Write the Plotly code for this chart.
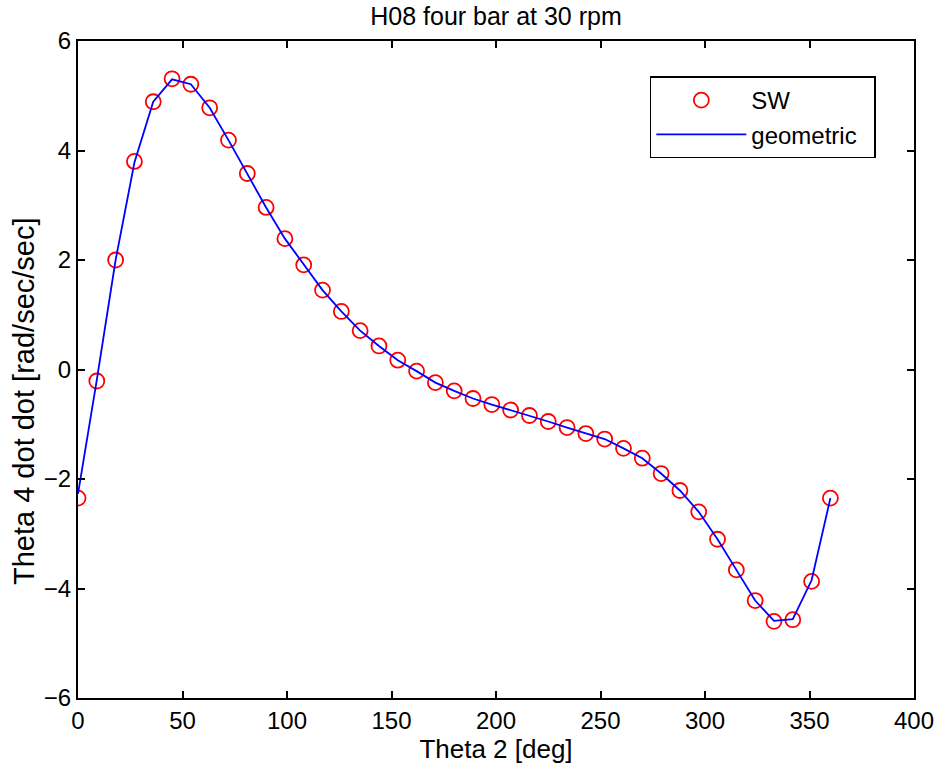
import plotly.graph_objects as go

theta2_deg = [0, 9, 18, 27, 36, 45, 54, 63, 72, 81, 90, 99, 108, 117, 126, 135,
              144, 153, 162, 171, 180, 189, 198, 207, 216, 225, 234, 243, 252,
              261, 270, 279, 288, 297, 306, 315, 324, 333, 342, 351, 360]

sw_values = [-2.35, -0.21, 2.00, 3.80, 4.89, 5.31, 5.21, 4.78, 4.19, 3.58, 2.96,
             2.39, 1.91, 1.45, 1.06, 0.71, 0.43, 0.17, -0.03, -0.24, -0.39,
             -0.53, -0.64, -0.74, -0.84, -0.95, -1.06, -1.17, -1.27, -1.44,
             -1.62, -1.90, -2.21, -2.60, -3.10, -3.66, -4.22, -4.60, -4.57,
             -3.87, -2.35]

geometric_values = [-2.27, -0.19, 2.00, 3.78, 4.89, 5.30, 5.21, 4.78, 4.19, 3.58, 2.96,
                    2.39, 1.91, 1.45, 1.06, 0.71, 0.43, 0.17, -0.03, -0.24, -0.39,
                    -0.53, -0.64, -0.74, -0.84, -0.95, -1.06, -1.17, -1.27, -1.44,
                    -1.62, -1.90, -2.21, -2.60, -3.10, -3.66, -4.22, -4.59, -4.56,
                    -3.85, -2.35]

FONT = "Liberation Sans, Arial, sans-serif"
FS = 24

fig = go.Figure()
fig.add_trace(go.Scatter(
    x=theta2_deg, y=sw_values, mode="markers", name="SW",
    marker=dict(symbol="circle-open", size=15, color="#ff0000",
                line=dict(color="#ff0000", width=1.8)),
))
fig.add_trace(go.Scatter(
    x=theta2_deg, y=geometric_values, mode="lines", name="geometric\u2002",
    line=dict(color="#0000ff", width=1.8),
))

axis_common = dict(
    showline=True, mirror="ticks", linecolor="black", linewidth=2,
    ticks="inside", ticklen=7, tickwidth=1.5, tickcolor="black",
    showgrid=False, zeroline=False, automargin=False,
    tickfont=dict(family=FONT, size=FS, color="black"),
)

fig.update_layout(
    width=942, height=773,
    margin=dict(l=78, r=28, t=41, b=75, autoexpand=False),
    paper_bgcolor="white", plot_bgcolor="white",
    font=dict(family=FONT, size=FS, color="black"),
    title=dict(text="H08 four bar at 30 rpm", xref="paper", x=0.5, xanchor="center",
               y=1 - 16 / 773, yanchor="middle",
               font=dict(family=FONT, size=25, color="black")),
    xaxis=dict(range=[0, 400], dtick=50, tick0=0,
               title=dict(text="Theta 2 [deg]", standoff=3,
                          font=dict(family=FONT, size=26, color="black")),
               **axis_common),
    yaxis=dict(range=[-6, 6], dtick=2, tick0=0, **axis_common),
    legend=dict(x=0.684, y=0.946, xanchor="left", yanchor="top",
                bgcolor="white", bordercolor="black", borderwidth=1.5,
                itemwidth=90,
                font=dict(family=FONT, size=FS, color="black"),
                tracegroupgap=0),
    showlegend=True,
    annotations=[dict(
        text="Theta 4 dot dot [rad/sec/sec]", textangle=-90,
        xref="paper", yref="paper", x=-0.0646, y=0.452,
        xanchor="center", yanchor="middle", showarrow=False,
        font=dict(family=FONT, size=29, color="black"),
    )],
)

fig.write_html("out.html", config={"displayModeBar": False},
               post_script="document.body.style.margin='0px';")
